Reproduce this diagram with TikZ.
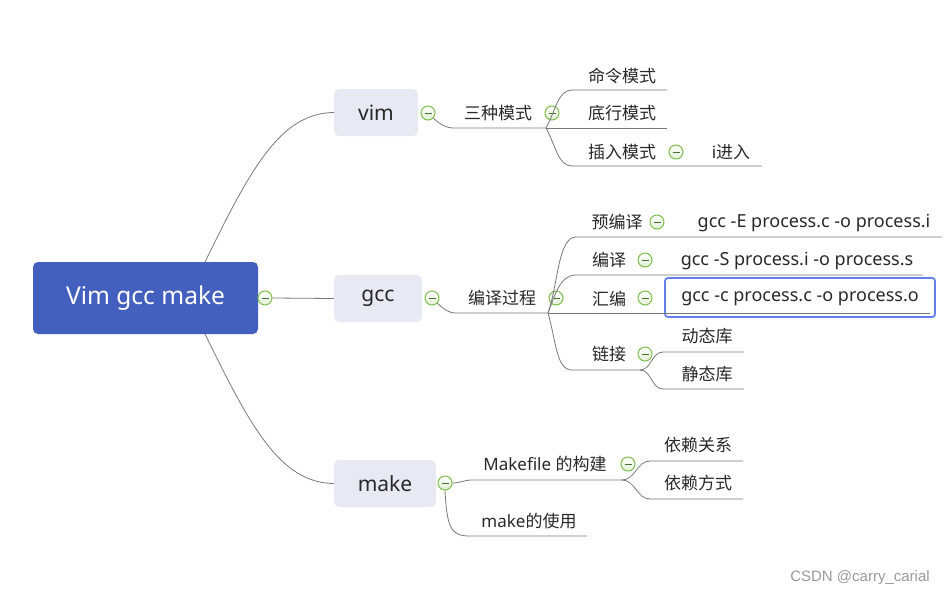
\documentclass[tikz,border=0pt]{standalone}
\usepackage{fontspec}
\setmainfont{Noto Sans CJK SC}
\newfontfamily\lat{Noto Sans}
\newfontfamily\wmfont{Liberation Sans}
\definecolor{rootblue}{RGB}{67,96,190}
\definecolor{boxgray}{RGB}{232,233,242}
\definecolor{linegray}{RGB}{120,120,120}
\definecolor{btngreen}{RGB}{125,190,75}
\definecolor{btnfill}{RGB}{226,240,214}
\definecolor{btnminus}{RGB}{70,110,50}
\definecolor{hiblue}{RGB}{100,128,240}
\definecolor{txt}{RGB}{40,40,40}
\begin{document}
\begin{tikzpicture}[x=1pt,y=-1pt,
  conn/.style={draw=linegray, line width=0.8pt},
  rootbox/.style={fill=rootblue, rounded corners=5pt, text=white, inner sep=0pt,
    minimum width=225pt, minimum height=72pt, font=\lat\fontsize{24.5}{28}\selectfont},
  mainbox/.style={fill=boxgray, rounded corners=5pt, text=txt, inner sep=0pt,
    minimum height=47pt, font=\lat\fontsize{21}{24}\selectfont},
  lbl/.style={inner sep=0pt, text=txt, font=\fontsize{17}{20}\selectfont},
  cmd/.style={inner sep=0pt, text=txt, font=\lat\fontsize{18}{21}\selectfont},
  btn/.style={circle, draw=btngreen, line width=1pt, inner sep=0pt, minimum size=14pt,
    top color=white, bottom color=btnfill,
    path picture={\draw[btnminus, line width=1pt]
      ([xshift=3.5pt]path picture bounding box.west) -- ([xshift=-3.5pt]path picture bounding box.east);}},
  hibox/.style={draw=hiblue, line width=1.8pt, rounded corners=3pt, inner sep=0pt}
]
\useasboundingbox (0,0) rectangle (952,597);

% root and main boxes
\node[rootbox] (root) at (145.5,298) {Vim gcc make};
\node[btn] (rb) at (265,298) {};
\node[mainbox, minimum width=84pt] (vim) at (376,112.5) {vim};
\node[mainbox, minimum width=88pt] (gcc) at (378,298.5) {gcc};
\node[mainbox, minimum width=102pt] (make) at (385,483.5) {make};

\coordinate (rt) at (205,262);
\coordinate (rbm) at (205,334);
\draw[conn] (rb.east) -- (gcc.west);
\draw[conn] (rt) .. controls (250,170) and (280,113) .. (vim.west);
\draw[conn] (rbm) .. controls (250,426) and (280,483) .. (make.west);

% ---------- vim branch
\node[btn] (b1) at (428,113) {};
\node[lbl] (t1) at (498,113.5) {三种模式};
\node[btn] (b2) at (552,113) {};
\coordinate (u1) at (454,128);
\coordinate (j1) at (546,128);
\draw[conn] (b1.south east) to[out=-40,in=180] (u1) -- (j1);

\node[lbl] (v1) at (622,75.5) {命令模式};
\node[lbl] (v2) at (622,113.5) {底行模式};
\node[lbl] (v3) at (622,152.5) {插入模式};
\node[btn] (b3) at (676,152) {};
\node[lbl] (v4) at (731,152.5) {{\lat i}进入};
\coordinate (v1s) at (572,90);  \coordinate (v1e) at (667,90);
\coordinate (v2e) at (667,128);
\coordinate (v3s) at (572,166); \coordinate (v3e) at (762,166);
\draw[conn] (j1) .. controls (556,110) and (558,90) .. (v1s) -- (v1e);
\draw[conn] (j1) -- (v2e);
\draw[conn] (j1) .. controls (556,146) and (558,166) .. (v3s) -- (v3e);

% ---------- gcc branch
\node[btn] (b4) at (432,298) {};
\node[lbl] (t2) at (502,298.5) {编译过程};
\node[btn] (b5) at (556,298) {};
\coordinate (u2) at (456,313);
\coordinate (j2) at (548,313);
\draw[conn] (b4.south east) to[out=-40,in=180] (u2) -- (j2);

\node[lbl] (g1) at (617,222.5) {预编译};
\node[btn] (b6) at (657,222) {};
\node[cmd] (g1c) at (814,223) {gcc -E process.c -o process.i};
\node[lbl] (g2) at (609,260.5) {编译};
\node[btn] (b7) at (645,260) {};
\node[cmd] (g2c) at (797,261) {gcc -S process.i -o process.s};
\node[lbl] (g3) at (609,298.5) {汇编};
\node[btn] (b8) at (645,298) {};
\node[cmd] (g3c) at (800,299) {gcc -c process.c -o process.o};
\node[hibox, minimum width=270pt, minimum height=39pt] (hl) at (800,297.5) {};
\node[lbl] (g4) at (609,354.5) {链接};
\node[btn] (b9) at (645,354) {};
\node[lbl] (g5) at (707,336.5) {动态库};
\node[lbl] (g6) at (707,374.5) {静态库};

\coordinate (g1s) at (576,237); \coordinate (g1e) at (942,237);
\coordinate (g2s) at (576,275); \coordinate (g2e) at (923,275);
\coordinate (g3e) at (930,313);
\coordinate (g4s) at (572,370); \coordinate (j4) at (640,370);
\draw[conn] (j2) .. controls (558,285) and (558,237) .. (g1s) -- (g1e);
\draw[conn] (j2) .. controls (555,295) and (560,275) .. (g2s) -- (g2e);
\draw[conn] (j2) -- (g3e);
\draw[conn] (j2) .. controls (556,340) and (556,370) .. (g4s) -- (j4);

\coordinate (g5s) at (663,352); \coordinate (g5e) at (744,352);
\coordinate (g6s) at (663,389); \coordinate (g6e) at (744,389);
\draw[conn] (j4) to[out=0,in=180] (g5s) -- (g5e);
\draw[conn] (j4) to[out=0,in=180] (g6s) -- (g6e);

% ---------- make branch
\node[btn] (b10) at (445,483) {};
\node[lbl] (m1) at (545,464.5) {{\lat Makefile }的构建};
\node[btn] (b11) at (628,464) {};
\node[lbl] (m2) at (698,445.5) {依赖关系};
\node[lbl] (m3) at (698,483.5) {依赖方式};
\node[lbl] (m4) at (529,521.5) {{\lat make}的使用};
\coordinate (u3) at (472,480);
\coordinate (j3) at (622,480);
\draw[conn] (b10.east) to[out=0,in=180] (u3) -- (j3);
\coordinate (m2s) at (650,461); \coordinate (m2e) at (743,461);
\coordinate (m3s) at (650,499); \coordinate (m3e) at (743,499);
\draw[conn] (j3) to[out=0,in=180] (m2s) -- (m2e);
\draw[conn] (j3) to[out=0,in=180] (m3s) -- (m3e);
\coordinate (m4s) at (470,536); \coordinate (m4e) at (587,536);
\draw[conn] (b10.south) .. controls (447,530) and (452,536) .. (m4s) -- (m4e);

% watermark
\node[inner sep=0pt, text=gray!80, font=\wmfont\fontsize{15}{17}\selectfont] (wm) at (860,578) {CSDN @carry\_carial};
\end{tikzpicture}
\end{document}
